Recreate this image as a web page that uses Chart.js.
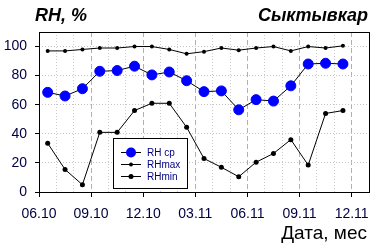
<!DOCTYPE html>
<html>
<head>
<meta charset="utf-8">
<script src="https://cdn.jsdelivr.net/npm/chart.js@4"></script>
<style>
html, body { margin: 0; padding: 0; background: #fff; }
</style>
</head>
<body>
<canvas id="rhChart" width="389" height="249"></canvas>
<script>
// monthly values, June 2010 .. November 2011
const months = ['06.10', '07.10', '08.10', '09.10', '10.10', '11.10', '12.10', '01.11', '02.11',
                '03.11', '04.11', '05.11', '06.11', '07.11', '08.11', '09.11', '10.11', '11.11'];
const rhAvg = [68.5, 66, 71, 83, 83.5, 86.5, 80.5, 82.5, 76.5, 69, 69.5, 56.5, 63.5, 62.5, 73, 88, 88.5, 88];
const rhMax = [97, 97, 98, 99, 99, 100, 100, 98, 95, 96.5, 99, 97.5, 99, 100, 97, 100, 99, 100.5];
const rhMin = [33.5, 15.5, 5, 41, 41, 56, 61, 61, 44.5, 23, 17, 10.5, 20.5, 26.5, 36, 18.5, 54, 56];
const tickLabels = ['06.10', '09.10', '12.10', '03.11', '06.11', '09.11', '12.11'];
const seriesNames = ['RH ср', 'RHmax', 'RHmin'];

const FONT = '"Liberation Sans", Arial, sans-serif';
const NAVY = '#000040';

function toPoints(values) {
    // each value sits in the middle of its month
    return values.map((v, i) => ({ x: i + 0.5, y: v }));
}

const frameAndText = {
    id: 'frameAndText',
    beforeDatasetsDraw(chart) {
        const ctx = chart.ctx;
        const a = chart.chartArea;
        ctx.save();
        ctx.strokeStyle = '#000';
        ctx.lineWidth = 1;
        ctx.strokeRect(Math.round(a.left) + 0.5, Math.round(a.top) + 0.5,
            Math.round(a.right - a.left), Math.round(a.bottom - a.top));
        ctx.restore();
    },
    afterDraw(chart) {
        const ctx = chart.ctx;
        ctx.save();
        ctx.fillStyle = '#000';
        ctx.textBaseline = 'alphabetic';
        ctx.font = 'italic bold 18px ' + FONT;
        ctx.textAlign = 'left';
        ctx.fillText('RH, %', 35, 21);
        ctx.textAlign = 'right';
        ctx.fillText('Сыктывкар', 368, 21);
        ctx.font = '19px ' + FONT;
        ctx.fillText('Дата, мес', 367, 239);

        // legend box
        const lx = 113, ly = 138, lw = 74, lh = 50;
        ctx.fillStyle = '#fff';
        ctx.fillRect(lx, ly, lw, lh);
        ctx.strokeStyle = '#000';
        ctx.lineWidth = 1;
        ctx.strokeRect(lx + 0.5, ly + 0.5, lw, lh);
        const rows = [152, 164, 176];
        const radii = [5, 2, 2.5];
        const colors = ['#0000ff', '#000', '#000'];
        ctx.font = '10px ' + FONT;
        ctx.textAlign = 'left';
        ctx.textBaseline = 'middle';
        rows.forEach((y, i) => {
            ctx.strokeStyle = '#000';
            ctx.beginPath();
            ctx.moveTo(121, y + 0.5);
            ctx.lineTo(141, y + 0.5);
            ctx.stroke();
            ctx.fillStyle = colors[i];
            ctx.beginPath();
            ctx.arc(131, y + 0.5, radii[i], 0, Math.PI * 2);
            ctx.fill();
            ctx.fillStyle = '#000080';
            ctx.fillText(seriesNames[i], 147, y + 1);
        });
        ctx.restore();
    }
};

const ctx = document.getElementById('rhChart').getContext('2d');
new Chart(ctx, {
    type: 'line',
    data: {
        datasets: [
            {
                label: seriesNames[0],
                data: toPoints(rhAvg),
                borderColor: '#000',
                borderWidth: 1,
                pointRadius: 5,
                pointBackgroundColor: '#0000ff',
                pointBorderColor: '#0000ff',
                pointBorderWidth: 1
            },
            {
                label: seriesNames[1],
                data: toPoints(rhMax),
                borderColor: '#000',
                borderWidth: 1,
                pointRadius: 2,
                pointBackgroundColor: '#000',
                pointBorderColor: '#000',
                pointBorderWidth: 0
            },
            {
                label: seriesNames[2],
                data: toPoints(rhMin),
                borderColor: '#000',
                borderWidth: 1,
                pointRadius: 2.5,
                pointBackgroundColor: '#000',
                pointBorderColor: '#000',
                pointBorderWidth: 0
            }
        ]
    },
    options: {
        responsive: false,
        animation: false,
        events: [],
        layout: { padding: { top: 32, right: 20, left: 0, bottom: 0 } },
        plugins: {
            legend: { display: false },
            tooltip: { enabled: false }
        },
        scales: {
            x: {
                type: 'linear',
                min: 0,
                max: 19,
                afterFit: (scale) => { scale.height = 57; },
                border: {
                    display: false,
                    dash: (c) => (c.tick && c.tick.value % 3 === 0) ? [5, 3] : [1, 2]
                },
                grid: {
                    color: (c) => (c.tick && c.tick.value % 3 === 0) ? '#b0b0b0' : '#cccccc',
                    tickColor: (c) => (c.tick && c.tick.value % 3 === 0) ? '#000' : 'rgba(0,0,0,0)',
                    tickLength: 5
                },
                ticks: {
                    stepSize: 1,
                    autoSkip: false,
                    maxRotation: 0,
                    minRotation: 0,
                    padding: 9,
                    color: NAVY,
                    font: { family: FONT, size: 14 },
                    callback: (v) => (v % 3 === 0 && v / 3 < tickLabels.length) ? tickLabels[v / 3] : ''
                }
            },
            y: {
                min: 0,
                max: 110,
                afterFit: (scale) => { scale.width = 39; },
                border: { display: false, dash: [1, 2] },
                grid: {
                    color: (c) => (c.tick && c.tick.value % 20 === 0) ? '#c4c4c4' : 'rgba(0,0,0,0)',
                    tickColor: (c) => (c.tick && c.tick.value % 20 === 0) ? '#000' : 'rgba(0,0,0,0)',
                    tickLength: 4
                },
                ticks: {
                    stepSize: 10,
                    autoSkip: false,
                    padding: 8,
                    color: NAVY,
                    font: { family: FONT, size: 14 },
                    callback: (v) => v % 20 === 0 ? v : ''
                }
            }
        }
    },
    plugins: [frameAndText]
});
</script>
</body>
</html>
